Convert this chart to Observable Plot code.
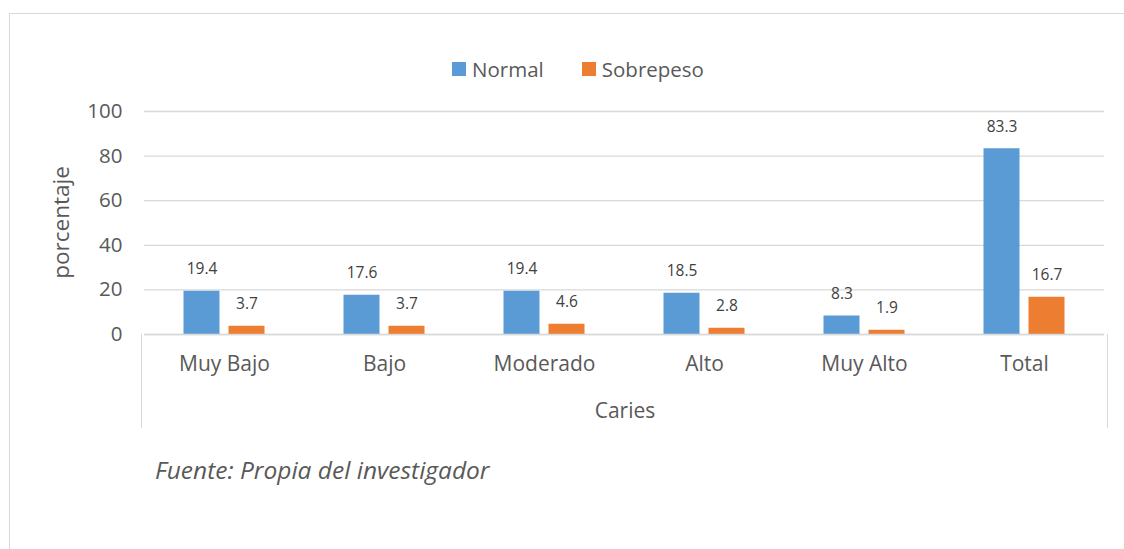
<!DOCTYPE html>
<html>
<head>
<meta charset="utf-8">
<script src="https://cdn.jsdelivr.net/npm/d3@7"></script>
<script src="https://cdn.jsdelivr.net/npm/@observablehq/plot@0.6"></script>
<style>
  html, body { margin: 0; padding: 0; background: #fff; }
  #wrap { position: relative; width: 1124px; height: 549px; overflow: hidden; font-family: "Open Sans", sans-serif; color: #595959; }
  #frame { position: absolute; left: 9px; top: 13px; width: 1130px; height: 560px; border-left: 1px solid #d9d9d9; border-top: 1px solid #d9d9d9; }
  #catbox { position: absolute; left: 141px; top: 334px; width: 965px; height: 94px; border-left: 1px solid #d9d9d9; border-right: 1px solid #d9d9d9; }
  #legend { position: absolute; top: 55px; left: 0; width: 1124px; display: flex; justify-content: center; gap: 38px; font-size: 20.5px; color: #595959; padding-left: 32px; box-sizing: border-box; }
  #legend span.item { display: flex; align-items: center; gap: 6px; }
  #legend span.sw { width: 14px; height: 14px; display: inline-block; }
  #caption { position: absolute; left: 155px; top: 453px; font-size: 24.5px; font-style: italic; color: #595959; line-height: 34px; }
  #chart { position: absolute; left: 0; top: 0; }
</style>
</head>
<body>
<div id="wrap">
  <div id="frame"></div>
  <div id="legend"></div>
  <div id="chart"></div>
  <div id="catbox"></div>
  <div id="caption">Fuente: Propia del investigador</div>
</div>
<script>
const categories = ["Muy Bajo", "Bajo", "Moderado", "Alto", "Muy Alto", "Total"];
const series = ["Normal", "Sobrepeso"];
const normal = [19.4, 17.6, 19.4, 18.5, 8.3, 83.3];
const sobrepeso = [3.7, 3.7, 4.6, 2.8, 1.9, 16.7];
const colors = ["#5B9BD5", "#ED7D31"];
const yTicks = [0, 20, 40, 60, 80, 100];

const data = [];
categories.forEach((c, i) => {
  data.push({cat: c, serie: "Normal", value: normal[i]});
  data.push({cat: c, serie: "Sobrepeso", value: sobrepeso[i]});
});

// legend
const legend = document.getElementById("legend");
series.forEach((s, i) => {
  const item = document.createElement("span");
  item.className = "item";
  const sw = document.createElement("span");
  sw.className = "sw";
  sw.style.background = colors[i];
  item.appendChild(sw);
  item.appendChild(document.createTextNode(s));
  legend.appendChild(item);
});

const chart = Plot.plot({
  width: 1124,
  height: 440,
  marginLeft: 141.5,
  marginRight: 17,
  marginTop: 111,
  marginBottom: 106,
  style: {fontFamily: "'Open Sans', sans-serif", fontSize: "20.5px", color: "#595959", background: "transparent", overflow: "visible"},
  fx: {domain: categories, padding: 0, label: null},
  x: {domain: series, paddingInner: 0.2, paddingOuter: 0.86, axis: null},
  y: {domain: [0, 100], ticks: yTicks, label: null},
  color: {domain: series, range: colors},
  marks: [
    Plot.gridY(yTicks, {stroke: "#d9d9d9", strokeOpacity: 1, strokeWidth: 1.3}),
    Plot.axisY(yTicks, {tickSize: 0, tickPadding: 22, label: null, fill: "#595959", fontSize: 20.5}),
    Plot.barY(data, {fx: "cat", x: "serie", y: "value", fill: "serie"}),
    Plot.text(data, {fx: "cat", x: "serie", y: "value", text: d => d.value.toFixed(1), dy: -22, fill: "#404040", fontSize: 15.5}),
    Plot.axisFx({anchor: "bottom", tickSize: 0, tickPadding: 22, fill: "#595959", fontSize: 21, label: null}),
    Plot.ruleY([0], {stroke: "#d9d9d9", strokeWidth: 1.3})
  ]
});
document.getElementById("chart").appendChild(chart);

// axis titles as SVG text in the plot's svg
const svg = d3.select(chart);
svg.append("text")
  .attr("transform", "translate(63,222.5) rotate(-90)")
  .attr("text-anchor", "middle")
  .attr("dominant-baseline", "middle")
  .attr("fill", "#595959")
  .style("font-size", "22.5px")
  .text("porcentaje");
svg.append("text")
  .attr("x", 625)
  .attr("y", 412)
  .attr("text-anchor", "middle")
  .attr("dominant-baseline", "middle")
  .attr("fill", "#595959")
  .style("font-size", "21px")
  .text("Caries");
</script>
</body>
</html>
